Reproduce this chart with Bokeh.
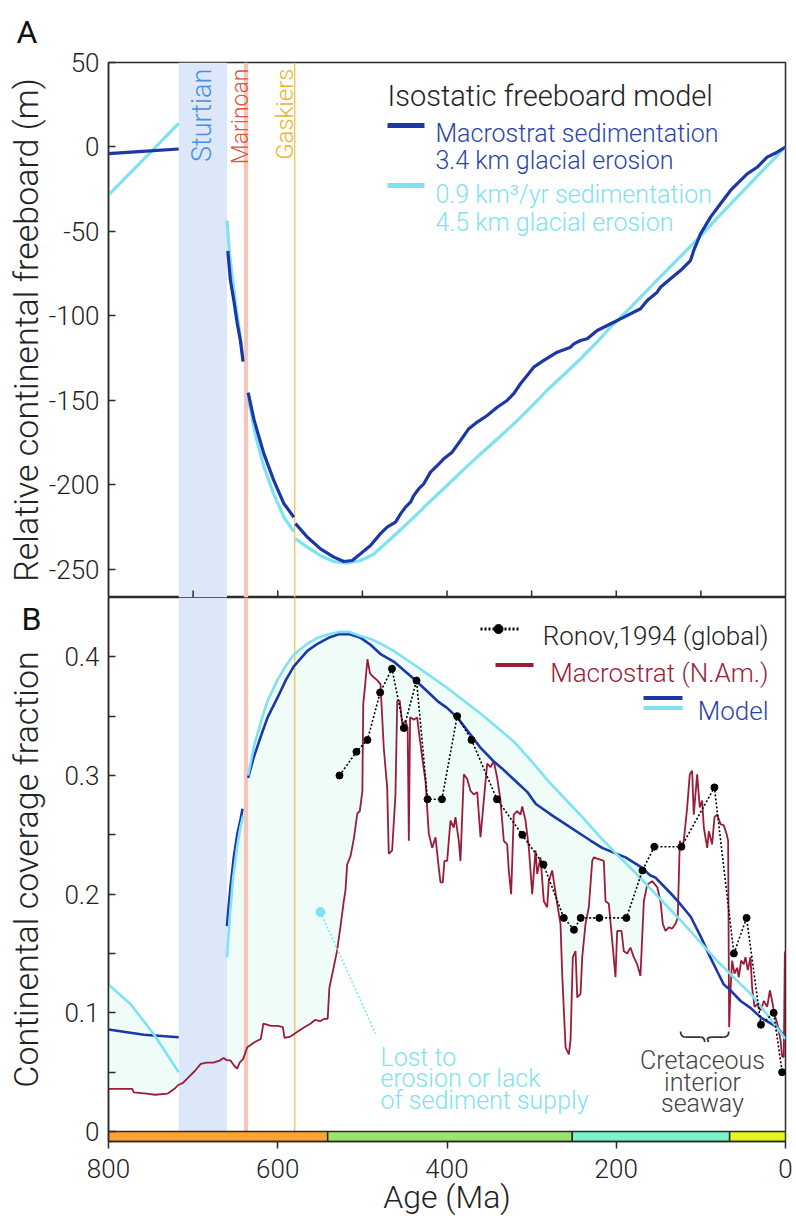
import numpy as np
from math import pi
from bokeh.plotting import figure
from bokeh.models import Range1d, FixedTicker, Label, BoxAnnotation, Span, LinearAxis
from bokeh.layouts import column
from bokeh.embed import file_html
from bokeh.resources import INLINE

FONT = "Roboto Light, Liberation Sans"
FONT_REG = "Roboto, Liberation Sans"

# ---------------- data ----------------
glacial_names = ["Sturtian", "Marinoan", "Gaskiers"]
sturtian = [717, 660]
marinoan = [640, 635]
gaskiers = 580

period_start = [800, 541, 252, 66]
period_end = [541, 252, 66, 0]
period_colors = ["#f8a533", "#9ae46c", "#7af5ca", "#e6f520"]

a_yticks = [-250, -200, -150, -100, -50, 0, 50]
a_ytick_labels = ["-250", "-200", "-150", "-100", "-50", "0", "50"]
a_xticks = [700, 600, 500, 400, 300, 200, 100]
b_xticks = [800, 600, 400, 200, 0]
b_yticks = [0, 0.1, 0.2, 0.3, 0.4]
b_ytick_labels = ["0", "0.1", "0.2", "0.3", "0.4"]
b_yminor = [0.05, 0.15, 0.25, 0.35]

# Panel A: isostatic freeboard model (m)
a_blue1_age = [800, 760, 717]
a_blue1 = [-3.9, -2.6, -1.2]
a_cyan1_age = [800, 760, 717]
a_cyan1 = [-28.4, -8.1, 14.0]

a_blue2_age = [659, 656, 652, 648, 644, 641]
a_blue2 = [-61.5, -78.7, -90.5, -104.0, -115.0, -127.0]
a_cyan2_age = [660, 657, 654, 650, 646, 641]
a_cyan2 = [-43.6, -63.0, -76.0, -92.0, -106.0, -125.0]

a_blue3_age = [635, 628, 616.5, 605, 593, 581]
a_blue3 = [-145.4, -161.5, -181.3, -197.0, -210.8, -219.1]
a_cyan3_age = [635, 632, 625, 616.5, 605, 593, 581]
a_cyan3 = [-148.0, -156.0, -173.0, -189.0, -205.0, -218.8, -227.6]

a_blue4_age = [579, 565.2, 549.5, 533.7, 521.9, 512, 502.2, 490.4, 478.6, 470.7, 460.8, 454.9,
               449, 443.1, 439.2, 433.3, 427.4, 419.5, 411.6, 403.8, 393.9, 384, 374.2, 364.3,
               352.5, 340.7, 328.9, 321.1, 313.2, 305.3, 297.5, 285.6, 269.8, 254, 250.1, 242.2,
               234.3, 222.5, 202.9, 195, 171.3, 163.4, 151.6, 147.7, 135.9, 124.1, 112.3, 108.4,
               100.4, 88.6, 76.8, 65, 55.2, 45.3, 33.5, 21.7, 9.9, 0]
a_blue4 = [-222.9, -230.8, -237.8, -242.7, -245.3, -244.7, -240.7, -235.8, -228.8, -225.0, -222.0, -217.1,
           -213.1, -210.2, -206.2, -202.2, -199.3, -192.4, -188.5, -184.5, -180.6, -173.7, -166.7, -162.8,
           -158.9, -154.0, -150.0, -146.0, -140.1, -135.2, -130.3, -126.3, -121.4, -118.5, -116.5, -114.5,
           -113.5, -108.6, -103.7, -101.7, -95.7, -90.8, -85.9, -83.0, -78.0, -73.1, -67.2, -61.2,
           -51.4, -41.5, -33.6, -25.7, -20.8, -15.9, -12.0, -6.0, -3.1, 0.0]
a_cyan4_age = [579, 565, 550, 534, 518, 502, 487, 477, 458, 439, 420, 400, 380, 360, 340, 321, 300,
               282, 262, 242, 222, 203, 188, 175, 152, 124, 100, 75, 50, 25, 0]
a_cyan4 = [-231.8, -236.8, -241.7, -245.3, -246.3, -244.7, -241.1, -236.6, -228.0, -219.0, -209.8,
           -200.3, -190.8, -181.5, -172.5, -163.8, -153.5, -144.1, -134.8, -125.3, -115.0, -104.6,
           -97.5, -90.8, -79.0, -64.8, -52.5, -39.0, -26.0, -13.0, 0.0]

# Panel B: continental coverage fraction
b_blue1_age = [800, 758, 717]
b_blue1 = [0.086, 0.0816, 0.0795]
b_cyan1_age = [800, 774, 746.5, 717]
b_cyan1 = [0.124, 0.1075, 0.082, 0.050]

b_blue2_age = [660, 658.5, 656, 652, 648, 644, 641.6]
b_blue2 = [0.173, 0.186, 0.205, 0.231, 0.250, 0.263, 0.272]
b_cyan2_age = [660, 657, 653, 648, 644, 641]
b_cyan2 = [0.147, 0.178, 0.212, 0.240, 0.257, 0.266]

b_blue3_age = [635, 628.5, 620, 612, 600, 590, 581, 565, 553, 540, 528, 515, 502, 490, 478, 463, 450,
               440, 425, 410, 400, 388, 375, 360, 345, 335, 320, 305, 295, 289, 275, 260, 245, 230,
               216.6, 203, 189, 171, 160, 153.6, 136, 127, 112, 100, 89, 80, 73, 65, 53, 41, 29, 10, 0]
b_blue3 = [0.298, 0.315, 0.333, 0.349, 0.366, 0.381, 0.392, 0.405, 0.411, 0.416, 0.419, 0.419, 0.416,
           0.410, 0.402, 0.396, 0.388, 0.382, 0.372, 0.362, 0.357, 0.349, 0.337, 0.323, 0.312, 0.306,
           0.296, 0.286, 0.276, 0.273, 0.266, 0.259, 0.252, 0.245, 0.239, 0.235, 0.231, 0.223, 0.216,
           0.214, 0.201, 0.194, 0.181, 0.164, 0.147, 0.134, 0.124, 0.119, 0.110, 0.104, 0.096, 0.088, 0.079]
b_cyan3_age = [635, 628, 620, 612, 600, 590, 581, 565, 553, 540, 528, 515, 502, 490, 478, 463, 440,
               420, 400, 380, 360, 340, 320, 300, 280, 260, 240, 220, 200, 180, 160, 140, 120, 100,
               81, 60, 41, 20, 0]
b_cyan3 = [0.300, 0.325, 0.345, 0.363, 0.381, 0.393, 0.402, 0.411, 0.416, 0.419, 0.421, 0.421, 0.4175,
           0.415, 0.411, 0.405, 0.394, 0.384, 0.374, 0.363, 0.352, 0.340, 0.328, 0.312, 0.295, 0.280,
           0.265, 0.249, 0.234, 0.220, 0.205, 0.190, 0.175, 0.159, 0.144, 0.129, 0.116, 0.097, 0.078]

ronov_age = [527, 507, 494, 479, 465, 451, 436, 423, 406, 388, 371, 341, 311, 286, 262, 250, 242,
             220, 188, 169, 155, 123, 84, 61, 46, 29, 14, 4]
ronov_val = [0.30, 0.32, 0.33, 0.37, 0.39, 0.34, 0.38, 0.28, 0.28, 0.35, 0.33, 0.28, 0.25, 0.225,
             0.18, 0.17, 0.18, 0.18, 0.18, 0.22, 0.24, 0.24, 0.29, 0.15, 0.18, 0.09, 0.10, 0.05]

mac_age = [800, 785, 772, 770, 755, 745, 730, 722, 718, 712, 705, 698, 691, 684, 676, 668, 664, 660,
           656, 651, 648, 645, 641, 636, 632, 628, 620, 617, 608, 600, 594, 592, 585, 581, 575, 568,
           561, 556, 550, 545, 541, 539, 534, 530, 526, 522, 520, 518, 514, 510, 506, 503, 500, 499,
           497, 494, 491, 487, 482, 478.6, 474.7, 470.7, 468.8, 464.8, 460.9, 458.8, 455.8, 452.9,
           449, 446.5, 445.1, 443.6, 439.1, 435.3, 432, 429.3, 425.4, 421.5, 417.5, 413.6, 409.7,
           407.7, 405, 403, 399.8, 395.9, 392, 390, 386.1, 384.1, 380.1, 376.1, 372.2, 368.3, 364.3,
           360.4, 356.5, 352.5, 348.6, 344.7, 340.7, 336.8, 332.9, 328.9, 327, 324.2, 321.1, 317.1,
           313.1, 311.1, 307.2, 303.3, 299.3, 295.4, 293.4, 289.5, 285.6, 281.6, 279.7, 275.7, 269.8,
           265.9, 263.9, 259.9, 256, 254, 251.3, 248.1, 246.1, 242.2, 240.2, 236.3, 232.4, 228.4,
           226.5, 222.5, 214.7, 212.7, 208.8, 204.8, 200.9, 198.9, 193.8, 191.1, 187.1, 183.2, 179.3,
           175.3, 171.4, 167.4, 163.4, 157.6, 151.6, 147.7, 145, 141.8, 137.8, 133.9, 130, 127.3,
           124.9, 122.1, 120.2, 116.2, 113.1, 110.3, 108.4, 104.4, 101.3, 98.5, 96.5, 92.5, 90.6,
           86.7, 83.9, 80.7, 76.8, 72.9, 69.7, 67.8, 66.6, 65, 63, 60.3, 57.1, 55.2, 52.4, 49.3,
           47.3, 44.5, 41.4, 39.4, 36.6, 33.4, 29.5, 25.6, 21.6, 18.5, 15.8, 13, 9.8, 5.9, 3.9, 2,
           0.8, 0]
mac_val = [0.036, 0.036, 0.036, 0.033, 0.032, 0.031, 0.032, 0.036, 0.039, 0.041, 0.046, 0.051, 0.057,
           0.058, 0.058, 0.060, 0.062, 0.060, 0.060, 0.055, 0.053, 0.058, 0.061, 0.071, 0.073, 0.075,
           0.078, 0.091, 0.089, 0.089, 0.088, 0.079, 0.080, 0.082, 0.085, 0.088, 0.091, 0.094, 0.093,
           0.095, 0.095, 0.121, 0.138, 0.152, 0.172, 0.194, 0.203, 0.225, 0.232, 0.247, 0.268, 0.270,
           0.287, 0.360, 0.374, 0.398, 0.386, 0.383, 0.380, 0.377, 0.323, 0.290, 0.234, 0.237, 0.284,
           0.363, 0.363, 0.343, 0.346, 0.340, 0.245, 0.349, 0.347, 0.349, 0.330, 0.315, 0.295, 0.251,
           0.239, 0.248, 0.222, 0.210, 0.210, 0.228, 0.228, 0.262, 0.256, 0.265, 0.245, 0.228, 0.301,
           0.297, 0.287, 0.284, 0.286, 0.248, 0.279, 0.310, 0.307, 0.312, 0.298, 0.279, 0.245, 0.242,
           0.220, 0.200, 0.267, 0.270, 0.267, 0.274, 0.262, 0.239, 0.200, 0.237, 0.217, 0.231, 0.194,
           0.189, 0.211, 0.220, 0.192, 0.175, 0.133, 0.071, 0.065, 0.077, 0.147, 0.152, 0.113, 0.116,
           0.147, 0.175, 0.189, 0.228, 0.231, 0.230, 0.228, 0.194, 0.192, 0.161, 0.130, 0.169, 0.169,
           0.152, 0.150, 0.155, 0.147, 0.141, 0.131, 0.194, 0.208, 0.211, 0.206, 0.194, 0.175, 0.169,
           0.172, 0.171, 0.175, 0.180, 0.245, 0.239, 0.245, 0.273, 0.301, 0.304, 0.267, 0.301, 0.273,
           0.279, 0.256, 0.239, 0.253, 0.242, 0.265, 0.267, 0.259, 0.258, 0.251, 0.245, 0.088, 0.119,
           0.144, 0.133, 0.138, 0.130, 0.144, 0.141, 0.147, 0.136, 0.147, 0.121, 0.105, 0.107, 0.102,
           0.110, 0.105, 0.119, 0.110, 0.099, 0.091, 0.077, 0.063, 0.063, 0.150, 0.152]

# ---------------- styles ----------------
DARK = "#1b38a6"
CYAN = "#7fe2f1"
CRIM = "#9c1c37"
DARK_TXT = "#2a45a8"
CYAN_TXT = "#80e2f0"
STURT_FILL = "#dce7fa"
MARI_FILL = "#f5c6b8"
GASK_COL = "#f1c766"
MINT = "#effcf8"
AX = "#2b2b2b"
TXT = "#222222"

A_YR = (-266.6, 50)
B_YR = (-0.0084, 0.45)
A_FRAME_H = 535
B_FRAME_H = 544


def style_axis(ax):
    ax.axis_line_color = AX
    ax.axis_line_width = 1.5
    ax.major_tick_line_color = AX
    ax.major_tick_line_width = 1.5
    ax.minor_tick_line_color = None
    ax.major_label_text_font = FONT
    ax.major_label_text_font_size = "26px"
    ax.major_label_text_color = TXT
    ax.axis_label_text_font = FONT
    ax.axis_label_text_font_size = "34px"
    ax.axis_label_text_font_style = "normal"
    ax.axis_label_text_color = TXT


def base_fig(frame_h, yr, top, bottom, xr, xloc):
    p = figure(frame_width=677, frame_height=frame_h, x_range=xr, y_range=Range1d(*yr),
               output_backend="svg", toolbar_location=None, x_axis_location=xloc,
               min_border_left=108, min_border_right=10, min_border_top=top,
               min_border_bottom=bottom)
    p.xgrid.visible = False
    p.ygrid.visible = False
    p.outline_line_color = AX
    p.outline_line_width = 1.5
    p.background_fill_color = "white"
    p.border_fill_color = "white"
    return p


def lbl(p, x, y, text, size, color=TXT, align="left", angle=0.0):
    p.add_layout(Label(x=x, y=y, text=text, text_font=FONT, text_font_size=size,
                       text_color=color, text_align=align, text_baseline="alphabetic",
                       angle=angle))


xr = Range1d(800, 0)

# ================= Panel A =================
pA = base_fig(A_FRAME_H, A_YR, 62, 0, xr, None)
pA.title.text = "A"
pA.title.text_font = FONT_REG
pA.title.text_font_size = "32px"
pA.title.text_font_style = "normal"
pA.title.text_color = "#111111"
pA.title.align = "left"
pA.title.vertical_align = "top"
pA.title.offset = -92
pA.title.standoff = 20

style_axis(pA.yaxis[0])
pA.yaxis.ticker = FixedTicker(ticks=a_yticks)
pA.yaxis.major_label_overrides = dict(zip(a_yticks, a_ytick_labels))
pA.yaxis.major_tick_in = 7
pA.yaxis.major_tick_out = 0
pA.yaxis.major_label_standoff = 9
pA.yaxis.axis_label = "Relative continental freeboard (m)"
pA.yaxis.axis_label_standoff = 0

# inward ticks on panel A's bottom edge (7 px long)
tick_len_a = 7 * (A_YR[1] - A_YR[0]) / A_FRAME_H
pA.segment(x0=a_xticks, y0=[A_YR[0]] * len(a_xticks), x1=a_xticks,
           y1=[A_YR[0] + tick_len_a] * len(a_xticks), line_color=AX, line_width=1.5)

pA.add_layout(BoxAnnotation(left=sturtian[0], right=sturtian[1], fill_color=STURT_FILL,
                            fill_alpha=1, line_color=None, level="underlay"))
pA.add_layout(BoxAnnotation(left=marinoan[0], right=marinoan[1], fill_color=MARI_FILL,
                            fill_alpha=1, line_color=None, level="underlay"))
pA.add_layout(Span(location=gaskiers, dimension="height", line_color=GASK_COL,
                   line_width=1.5, level="underlay"))

for ages, vals in [(a_cyan1_age, a_cyan1), (a_cyan2_age, a_cyan2), (a_cyan3_age, a_cyan3),
                   (a_cyan4_age, a_cyan4)]:
    pA.line(ages, vals, line_color=CYAN, line_width=3.2)
for ages, vals in [(a_blue1_age, a_blue1), (a_blue2_age, a_blue2), (a_blue3_age, a_blue3),
                   (a_blue4_age, a_blue4)]:
    pA.line(ages, vals, line_color=DARK, line_width=3.2)

# glaciation labels (rotated)
lbl(pA, 690.1, 46.4, glacial_names[0], "27px", "#4a8fe2", "right", pi / 2)
lbl(pA, 644.0, 46.4, glacial_names[1], "23px", "#e0553b", "right", pi / 2)
lbl(pA, 592.0, 46.4, glacial_names[2], "24px", "#e9b52c", "right", pi / 2)

# legend A
lbl(pA, 470.3, 29.9, "Isostatic freeboard model", "29px", TXT)
pA.segment(x0=[470.3], y0=[12.7], x1=[426.6], y1=[12.7], line_color=DARK, line_width=5)
lbl(pA, 413.6, 8.0, "Macrostrat sedimentation", "25px", DARK_TXT)
lbl(pA, 413.6, -8.0, "3.4 km glacial erosion", "25px", DARK_TXT)
pA.segment(x0=[470.3], y0=[-22.8], x1=[426.6], y1=[-22.8], line_color=CYAN, line_width=5)
lbl(pA, 413.6, -28.1, "0.9 km\u00b3/yr sedimentation", "25px", CYAN_TXT)
lbl(pA, 413.6, -44.7, "4.5 km glacial erosion", "25px", CYAN_TXT)

# ================= Panel B =================
pB = base_fig(B_FRAME_H, B_YR, 0, 76, xr, "below")
style_axis(pB.xaxis[0])
style_axis(pB.yaxis[0])
pB.xaxis.ticker = FixedTicker(ticks=b_xticks)
pB.xaxis.major_tick_in = 0
pB.xaxis.major_tick_out = 7
pB.xaxis.major_label_standoff = 10
pB.xaxis.axis_label = "Age (Ma)"
pB.xaxis.axis_label_text_font_size = "32px"
pB.xaxis.axis_label_standoff = -3
pB.yaxis.ticker = FixedTicker(ticks=b_yticks, minor_ticks=b_yminor)
pB.yaxis.major_label_overrides = dict(zip(b_yticks, b_ytick_labels))
pB.yaxis.major_tick_in = 7
pB.yaxis.major_tick_out = 0
pB.yaxis.minor_tick_line_color = AX
pB.yaxis.minor_tick_line_width = 1.5
pB.yaxis.minor_tick_in = 7
pB.yaxis.minor_tick_out = 0
pB.yaxis.major_label_standoff = 9
pB.yaxis.axis_label = "Continental coverage fraction"
pB.yaxis.axis_label_standoff = 15

# panel letter "B": an outer, line-less left axis carrying a single label
letter_axis = LinearAxis(ticker=FixedTicker(ticks=[0.432]), major_label_overrides={0.432: "B"},
                         axis_line_color=None, major_tick_line_color=None,
                         minor_tick_line_color=None, major_label_text_font=FONT_REG,
                         major_label_text_font_size="32px", major_label_text_color="#111111",
                         major_label_standoff=-44)
pB.add_layout(letter_axis, "left")

# "lost" fill between model envelope and Macrostrat curve
mac_a = np.array(mac_age, dtype=float)
mac_v = np.array(mac_val, dtype=float)


def envelope(seg_pairs, ages):
    ups = []
    for ag, vv in seg_pairs:
        ag = np.array(ag, dtype=float)
        vv = np.array(vv, dtype=float)
        o = np.argsort(ag)
        ups.append(np.interp(ages, ag[o], vv[o]))
    return np.maximum.reduce(ups)


m1 = mac_a >= sturtian[0]
up1 = envelope([(b_blue1_age, b_blue1), (b_cyan1_age, b_cyan1)], mac_a[m1])
pB.varea(x=mac_a[m1], y1=mac_v[m1], y2=np.maximum(up1, mac_v[m1]), fill_color=MINT, level="image")
m2 = mac_a <= sturtian[1]
up2 = envelope([(b_blue2_age + b_blue3_age, b_blue2 + b_blue3),
                (b_cyan2_age + b_cyan3_age, b_cyan2 + b_cyan3)], mac_a[m2])
pB.varea(x=mac_a[m2], y1=mac_v[m2], y2=np.maximum(up2, mac_v[m2]), fill_color=MINT, level="image")

pB.add_layout(BoxAnnotation(left=sturtian[0], right=sturtian[1], fill_color=STURT_FILL,
                            fill_alpha=1, line_color=None, level="underlay"))
pB.add_layout(BoxAnnotation(left=marinoan[0], right=marinoan[1], fill_color=MARI_FILL,
                            fill_alpha=1, line_color=None, level="underlay"))
pB.add_layout(Span(location=gaskiers, dimension="height", line_color=GASK_COL,
                   line_width=1.5, level="underlay"))

# geologic era bar
pB.quad(left=period_start, right=period_end, bottom=B_YR[0], top=0.0,
        fill_color=period_colors, line_color=AX, line_width=1.5)

pB.line(mac_age, mac_val, line_color=CRIM, line_width=1.8)
for ages, vals in [(b_blue1_age, b_blue1), (b_blue2_age, b_blue2), (b_blue3_age, b_blue3)]:
    pB.line(ages, vals, line_color=DARK, line_width=2.6)
for ages, vals in [(b_cyan1_age, b_cyan1), (b_cyan2_age, b_cyan2), (b_cyan3_age, b_cyan3)]:
    pB.line(ages, vals, line_color=CYAN, line_width=2.6)

pB.line(ronov_age, ronov_val, line_color="black", line_width=1.6, line_dash="2 2")
pB.scatter(ronov_age, ronov_val, size=7, color="black")

# legend B
pB.segment(x0=[360.4], y0=[0.4234], x1=[313.1], y1=[0.4234], line_color="black",
           line_width=3, line_dash="2 2")
pB.scatter([339.1], [0.4234], size=9, color="black")
lbl(pB, 20.1, 0.4175, "Ronov,1994 (global)", "26px", TXT, "right")
pB.segment(x0=[342.7], y0=[0.3931], x1=[297.8], y1=[0.3931], line_color=CRIM, line_width=4)
lbl(pB, 20.1, 0.3864, "Macrostrat (N.Am.)", "26px", CRIM, "right")
pB.segment(x0=[167.8], y0=[0.3653], x1=[121.7], y1=[0.3653], line_color=DARK, line_width=4)
pB.segment(x0=[167.8], y0=[0.3569], x1=[121.7], y1=[0.3569], line_color=CYAN, line_width=4)
lbl(pB, 20.1, 0.3544, "Model", "26px", DARK_TXT, "right")

# annotations
pB.line([549.5, 484.5], [0.185, 0.0825], line_color=CYAN, line_width=1.6, line_dash="2 2")
pB.scatter([549.5], [0.185], size=9, color=CYAN)
lbl(pB, 478.6, 0.0626, "Lost to", "25px", CYAN_TXT)
lbl(pB, 478.6, 0.0444, "erosion or lack", "25px", CYAN_TXT)
lbl(pB, 478.6, 0.0261, "of sediment supply", "25px", CYAN_TXT)

lbl(pB, 98.1, 0.0598, "Cretaceous", "25px", "#444444", "center")
lbl(pB, 98.1, 0.0415, "interior", "25px", "#444444", "center")
lbl(pB, 98.1, 0.0232, "seaway", "25px", "#444444", "center")

# curly brace over the seaway interval
pB.quadratic(x0=[124, 100.5, 90.5, 73], y0=[0.0842, 0.0795, 0.0755, 0.0795],
             x1=[118, 95.5, 85.5, 67], y1=[0.0795, 0.0755, 0.0795, 0.0842],
             cx=[124, 95.5, 95.5, 67], cy=[0.0795, 0.0795, 0.0795, 0.0795],
             line_color="#333333", line_width=1.8)
pB.segment(x0=[118, 85.5], y0=[0.0795, 0.0795], x1=[100.5, 73], y1=[0.0795, 0.0795],
           line_color="#333333", line_width=1.8)

layout = column(pA, pB)
open("out.html", "w").write(file_html(layout, INLINE))
